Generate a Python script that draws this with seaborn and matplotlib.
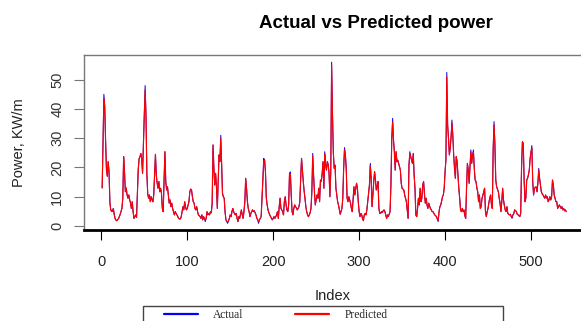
import numpy as np
import seaborn as sns
import matplotlib.pyplot as plt
from matplotlib.patches import Rectangle

# power readings, one per index
actual = [
    13, 29, 45, 41, 29, 19, 17, 22, 18.5, 8,
    5.5, 5, 5, 6, 4, 2.6, 2, 1.8, 2.2, 2.5,
    3.2, 4, 5, 6, 9.5, 23.7, 18.6, 11.7, 13, 10.6,
    9.5, 10.6, 9, 7.8, 6, 8.3, 4.9, 2.6, 3.2, 3.8,
    2.9, 11, 19.7, 23, 23.7, 24.8, 23, 18, 28, 38,
    48, 38, 18, 11, 9.5, 10.6, 8.3, 10, 9, 8.3,
    10.6, 18, 24.5, 17.4, 14.6, 12.9, 15.2, 11.7, 12.9, 11.2,
    6, 4.9, 14.6, 25.4, 15.2, 12.3, 13.4, 10.6, 7.8, 8.9,
    6.6, 7.8, 6, 4.9, 3.8, 4.9, 4.3, 3.8, 3.2, 2.6,
    2.4, 2.4, 3.2, 4.9, 6.6, 5.5, 8.3, 6.6, 5.5, 6,
    7.2, 8.3, 11.7, 12.6, 12.3, 10, 8.3, 7.8, 6, 5.5,
    6.6, 4.9, 3.8, 3.5, 3.2, 2.6, 3.8, 2.1, 3.2, 2.5,
    1.5, 2.6, 4.9, 3.8, 4.3, 3.8, 4.9, 4.5, 7.8, 27.7,
    20, 14, 18, 13.4, 6, 15, 24.3, 22, 31, 21.4,
    11.2, 10, 9.5, 4.9, 2.1, 1.5, 0.9, 1.8, 2.6, 3.8,
    3.2, 4.9, 6, 4.9, 4.2, 3.8, 4.3, 2.6, 1.5, 3.2,
    2.6, 4, 5.5, 3.8, 2.6, 4.9, 8.3, 16.3, 12.9, 8.3,
    6, 4.9, 3.2, 4.3, 4.9, 5.5, 4.9, 5.2, 4.5, 3.8,
    2.6, 2.1, 0.9, 2.1, 2.6, 3.2, 9.5, 15.7, 23.1, 22.6,
    18.6, 9.5, 7.2, 5.5, 4.5, 3.8, 3.2, 2.6, 2.1, 2.6,
    3.2, 2.6, 3.2, 3.8, 4.9, 2.6, 6.6, 9.5, 6, 5.5,
    4.9, 3.8, 8.3, 10, 7.2, 5.5, 4.9, 7.2, 18, 18.5,
    10.6, 4.9, 3.8, 6, 7.2, 6.6, 6.2, 5.5, 6, 6.6,
    8.3, 16.3, 23.1, 19.1, 15.2, 12, 9.5, 6.6, 4.9, 3.8,
    3.2, 3.8, 4.5, 6, 11.7, 24.8, 17.4, 11.7, 7.2, 9,
    10.6, 9.5, 12.9, 8.3, 15.7, 15.2, 18, 22, 12.9, 25.4,
    20.8, 19.1, 22, 21, 18, 10, 18.6, 56, 39, 25,
    19.7, 20.8, 12.9, 10.6, 8.3, 7.2, 5.5, 4, 5, 6,
    9.5, 19.7, 26.8, 24.3, 19.7, 9.5, 8.3, 10, 9, 7.8,
    6, 4.9, 8.9, 13.4, 10.6, 12.5, 14.6, 12.9, 8.3, 4.9,
    3.2, 4.3, 3.8, 2.5, 1.8, 3.8, 4.3, 3.8, 5.5, 8.3,
    11, 14, 21.4, 16.3, 6.6, 10.6, 15.2, 18.6, 15.7, 12.3,
    13.5, 15.2, 6, 4.3, 4.3, 4.9, 4.6, 5.2, 5.5, 4.9,
    3.8, 2.6, 3.8, 3.2, 4, 4.9, 14, 30, 36.8, 29.4,
    25.4, 19.1, 25.4, 22, 22.5, 21.4, 20.3, 19.1, 14.6, 12.9,
    12.6, 12.3, 10.6, 9.5, 8.3, 5.5, 2.6, 20.8, 25.4, 23.7,
    22.5, 21.4, 24.8, 17.4, 12.9, 3.8, 3.2, 6, 9.5, 7.2,
    12.9, 8.3, 9.5, 14, 15.2, 11, 7.8, 9.5, 7.2, 6,
    7.8, 6.8, 6, 5.5, 4.9, 4.9, 4.3, 3.8, 3.5, 3.2,
    2.4, 1.5, 4.9, 6.6, 7.2, 8.5, 10, 10.6, 12.9, 18.6,
    22.6, 52.5, 34.5, 30, 24.3, 26.5, 30.5, 36.2, 31.1, 24.3,
    19.7, 16.3, 23.7, 22, 17.4, 12.9, 9.5, 5.5, 4.9, 6,
    4.9, 5.5, 3.5, 2.6, 12.9, 21.4, 19.1, 14.6, 20, 26,
    21.4, 24.3, 26, 19.7, 15.7, 15.2, 13, 11.7, 8.3, 10.6,
    6, 6.6, 9.5, 10.5, 11.7, 12.9, 4.9, 3.2, 4.9, 6,
    8, 9.5, 10.6, 7.2, 6, 26.5, 35.7, 27.7, 15.7, 13.4,
    12.5, 11.7, 9.5, 7.8, 4.9, 8.3, 12.9, 8.9, 7, 5.5,
    4.9, 6.6, 4.3, 4, 3.8, 4, 3.2, 2.6, 3.8, 4.3,
    5.5, 5.2, 4.9, 4, 3.8, 3.5, 3.2, 4.3, 20, 28.8,
    28.2, 15.7, 8.3, 9.5, 15.7, 16.3, 17.5, 19.1, 23.1, 25.4,
    27.5, 15.2, 10.6, 12.9, 13.2, 13.4, 11.7, 14.6, 19.7, 16.3,
    14, 11.7, 11, 10.6, 10, 9.5, 10.6, 9.5, 10, 8.3,
    9, 10, 8.9, 10, 15.7, 14, 10.6, 9.5, 8.3, 8.3,
    6, 6.6, 7.2, 6.6, 6, 6.6, 5.5, 6, 5.2, 5.5, 4.9,
]

predicted = [
    13, 29, 43.5, 40.5, 29, 19, 17, 22, 18.5, 8,
    5.5, 5, 5, 6, 4, 2.6, 2, 1.8, 2.2, 2.5,
    3.2, 4, 5, 6, 9.5, 23.7, 18.6, 11.7, 13, 10.6,
    9.5, 10.6, 9, 7.8, 6, 8.3, 4.9, 2.6, 3.2, 3.8,
    2.9, 11, 19.2, 23, 23.7, 24.8, 23, 18, 28, 37.5,
    46.5, 37.5, 18, 11, 9.5, 10.6, 8.3, 10, 9, 8.3,
    10.6, 18, 24.5, 17.4, 14.6, 12.9, 15.2, 11.7, 12.9, 11.2,
    6, 4.9, 14.6, 25.4, 15.2, 12.3, 13.4, 10.6, 7.8, 8.9,
    6.6, 7.8, 6, 4.9, 3.8, 4.9, 4.3, 3.8, 3.2, 2.6,
    2.4, 2.4, 3.2, 4.9, 6.6, 5.5, 8.3, 6.6, 5.5, 6,
    7.2, 8.3, 11.7, 12.6, 12.3, 10, 8.3, 7.8, 6, 5.5,
    6.6, 4.9, 3.8, 3.5, 3.2, 2.6, 3.8, 2.1, 3.2, 2.5,
    2, 2.6, 4.9, 3.8, 4.3, 3.8, 4.9, 4.5, 7.8, 27.7,
    20, 14, 18, 13.4, 6, 15, 24.3, 22, 30, 21.4,
    11.2, 10, 9.5, 4.9, 2.1, 1.5, 1.4, 1.8, 2.6, 3.8,
    3.2, 4.9, 6, 4.9, 4.2, 3.8, 4.3, 2.6, 1.5, 3.2,
    2.6, 4, 5.5, 3.8, 2.6, 4.9, 8.3, 16.3, 12.9, 8.3,
    6, 4.9, 3.2, 4.3, 4.9, 5.5, 4.9, 5.2, 4.5, 3.8,
    2.6, 2.1, 1.4, 2.1, 2.6, 3.2, 9.5, 15.7, 22.3, 22.6,
    18.6, 9.5, 7.2, 5.5, 4.5, 3.8, 3.2, 2.6, 2.1, 2.6,
    3.2, 2.6, 3.2, 3.8, 4.9, 2.6, 6.6, 9.5, 6, 5.5,
    4.9, 3.8, 8.3, 10, 7.2, 5.5, 4.9, 7.2, 18, 17.8,
    10.6, 4.9, 3.8, 6, 7.2, 6.6, 6.2, 5.5, 6, 6.6,
    8.3, 16.3, 23.1, 19.1, 15.2, 12, 9.5, 6.6, 4.9, 3.8,
    3.2, 3.8, 4.5, 6, 11.7, 24, 17.4, 11.7, 7.2, 9,
    10.6, 9.5, 12.9, 8.3, 15.7, 15.2, 18, 22, 12.9, 24.6,
    20.8, 19.1, 22, 21, 18, 10, 18.6, 55, 38, 25,
    19.7, 20.8, 12.9, 10.6, 8.3, 7.2, 5.5, 4, 5, 6,
    9.5, 19.7, 26, 24.3, 19.7, 9.5, 8.3, 10, 9, 7.8,
    6, 4.9, 8.9, 13.4, 10.6, 12.5, 14.6, 12.9, 8.3, 4.9,
    3.2, 4.3, 3.8, 2.5, 1.8, 3.8, 4.3, 3.8, 5.5, 8.3,
    11, 14, 20.6, 16.3, 6.6, 10.6, 15.2, 18.6, 15.7, 12.3,
    13.5, 15.2, 6, 4.3, 4.3, 4.9, 4.6, 5.2, 5.5, 4.9,
    3.8, 2.6, 3.8, 3.2, 4, 4.9, 14, 30, 35.6, 29.4,
    25.4, 19.1, 25.4, 22, 22.5, 21.4, 20.3, 19.1, 14.6, 12.9,
    12.6, 12.3, 10.6, 9.5, 8.3, 5.5, 2.6, 20.8, 24.6, 23.7,
    22.5, 21.4, 24.8, 17.4, 12.9, 3.8, 3.2, 6, 9.5, 7.2,
    12.9, 8.3, 9.5, 14, 15.2, 11, 7.8, 9.5, 7.2, 6,
    7.8, 6.8, 6, 5.5, 4.9, 4.9, 4.3, 3.8, 3.5, 3.2,
    2.4, 2, 4.9, 6.6, 7.2, 8.5, 10, 10.6, 12.9, 18.6,
    22.6, 51, 34.5, 30, 24.3, 26.5, 30.5, 35.2, 31.1, 24.3,
    19.7, 16.3, 23.7, 22, 17.4, 12.9, 9.5, 5.5, 4.9, 6,
    4.9, 5.5, 3.5, 2.6, 12.9, 21.4, 19.1, 14.6, 20, 25.3,
    21.4, 24.3, 25.2, 19.7, 15.7, 15.2, 13, 11.7, 8.3, 10.6,
    6, 6.6, 9.5, 10.5, 11.7, 12.9, 4.9, 3.2, 4.9, 6,
    8, 9.5, 10.6, 7.2, 6, 26.5, 34.6, 27.7, 15.7, 13.4,
    12.5, 11.7, 9.5, 7.8, 4.9, 8.3, 12.9, 8.9, 7, 5.5,
    4.9, 6.6, 4.3, 4, 3.8, 4, 3.2, 3.1, 3.8, 4.3,
    5.5, 5.2, 4.9, 4, 3.8, 3.5, 3.2, 4.3, 20, 28.8,
    28.2, 15.7, 8.3, 9.5, 15.7, 16.3, 17.5, 19.1, 23.1, 25.4,
    26.6, 15.2, 10.6, 12.9, 13.2, 13.4, 11.7, 14.6, 19, 16.3,
    14, 11.7, 11, 10.6, 10, 9.5, 10.6, 9.5, 10, 8.3,
    9, 10, 8.9, 10, 15.7, 14, 10.6, 9.5, 8.3, 8.3,
    6, 6.6, 7.2, 6.6, 6, 6.6, 5.5, 6, 5.2, 5.5, 4.9,
]

x_ticks = [0, 100, 200, 300, 400, 500]
y_ticks = [0, 10, 20, 30, 40, 50]

index = np.arange(1, len(actual) + 1)

sns.set_style("white")
plt.rcParams['font.family'] = ['Liberation Sans', 'DejaVu Sans']

fig = plt.figure(figsize=(5.81, 3.21), dpi=100)
ax = fig.add_axes([83.6 / 581, 91 / 321, 501.2 / 581, 175 / 321])

sns.lineplot(x=index, y=actual, color="blue", lw=0.7, ax=ax, label="Actual", legend=False)
sns.lineplot(x=index, y=predicted, color="red", lw=0.85, ax=ax, label="Predicted", legend=False)

n = len(actual)
ax.set_xlim(1 - 0.04 * (n - 1), n + 0.04 * (n - 1))
ax.set_ylim(-1.37, 58.44)

ax.set_xticks(x_ticks)
ax.set_yticks(y_ticks)
ax.tick_params(axis='x', direction='out', length=7, width=0.8, color='black',
               labelsize=10.5, labelcolor='#222222', pad=11, bottom=True)
ax.tick_params(axis='y', direction='out', length=7, width=0.8, color='#777777',
               labelsize=10.5, labelcolor='#333333', pad=7, left=True,
               labelrotation=90)
for lab in ax.get_yticklabels():
    lab.set_va('center')

ax.spines['right'].set_visible(False)
ax.spines['top'].set_color('#777777')
ax.spines['left'].set_color('#777777')
ax.spines['top'].set_linewidth(1.0)
ax.spines['left'].set_linewidth(1.0)
ax.spines['bottom'].set_color('black')
ax.spines['bottom'].set_linewidth(2.0)

ax.set_xlabel("")
ax.set_ylabel("")
fig.text(19.5 / 581, 1 - 142.5 / 321, "Power, KW/m", rotation=90,
         ha='center', va='center', fontsize=10.5, color='#222222')
fig.text(333 / 581, 1 - 296 / 321, "Index", ha='center', va='center',
         fontsize=10.5, color='#222222')
fig.text(376 / 581, 1 - 27.5 / 321, "Actual vs Predicted power", ha='center',
         va='baseline', fontsize=13.5, fontweight='bold', color='black')

# legend frame (runs off the bottom of the canvas like the source)
fig.add_artist(Rectangle((143 / 581, -0.1), 360 / 581, 0.1 + 1 - 306 / 321,
                         transform=fig.transFigure, fill=False,
                         edgecolor='#444444', lw=1.0))
handles, labels = ax.get_legend_handles_labels()
leg = fig.legend(handles, labels, loc='center left',
                 bbox_to_anchor=(164 / 581, 1 - 315 / 321), ncol=2, frameon=False,
                 prop={'family': 'Liberation Serif', 'size': 8.3},
                 handlelength=2.95, handletextpad=1.3, columnspacing=4.5,
                 borderpad=0, borderaxespad=0)
for h in leg.legend_handles:
    h.set_linewidth(1.6)

fig.savefig("out.png", dpi=100)
